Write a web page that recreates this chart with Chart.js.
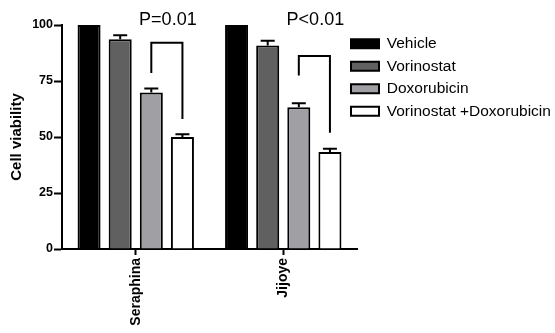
<!DOCTYPE html>
<html>
<head>
<meta charset="utf-8">
<script src="https://cdn.jsdelivr.net/npm/chart.js@4"></script>
<style>
  body { margin: 0; background: #fff; }
</style>
</head>
<body>
<canvas id="viabilityChart" width="555" height="333"></canvas>
<script>
// data
const cellLines = ['Seraphina', 'Jijoye'];
const treatments = ['Vehicle', 'Vorinostat', 'Doxorubicin', 'Vorinostat +Doxorubicin'];
const vehicle = [100, 100];
const vorinostat = [93.6, 90.9];
const doxorubicin = [69.9, 63.3];
const combination = [50.0, 43.3];
const vehicleErr = [0, 0];
const vorinostatErr = [1.8, 2.1];
const doxorubicinErr = [1.7, 1.8];
const combinationErr = [1.2, 1.5];
const yTicks = [0, 25, 50, 75, 100];

// significance brackets (doxorubicin vs combination)
const pLabels = ['P=0.01', 'P<0.01'];
const bracketTop = [92.1, 86.2];
const bracketLeftEnd = [78.6, 77.4];
const bracketRightEnd = [58.0, 51.9];
const pLabelLevel = [102.2, 102.2];

const fills = ['#000000', '#606060', '#a0a0a4', '#ffffff'];
const seriesValues = [vehicle, vorinostat, doxorubicin, combination];
const seriesErrors = [vehicleErr, vorinostatErr, doxorubicinErr, combinationErr];

document.addEventListener('DOMContentLoaded', () => {
    const errorBars = {
        id: 'errorBars',
        afterDatasetsDraw(chart) {
            const ctx = chart.ctx;
            const y = chart.scales.y;
            ctx.save();
            ctx.strokeStyle = '#000';
            ctx.lineWidth = 2;
            chart.data.datasets.forEach((ds, i) => {
                const meta = chart.getDatasetMeta(i);
                ds.data.forEach((v, j) => {
                    const e = seriesErrors[i][j];
                    if (!e) return;
                    const bar = meta.data[j];
                    const yTop = y.getPixelForValue(v + e);
                    ctx.beginPath();
                    ctx.moveTo(bar.x, y.getPixelForValue(v));
                    ctx.lineTo(bar.x, yTop);
                    ctx.moveTo(bar.x - 7, yTop);
                    ctx.lineTo(bar.x + 7, yTop);
                    ctx.stroke();
                });
            });
            ctx.restore();
        }
    };

    const brackets = {
        id: 'brackets',
        afterDraw(chart) {
            const ctx = chart.ctx;
            const y = chart.scales.y;
            const left = chart.getDatasetMeta(2);
            const right = chart.getDatasetMeta(3);
            ctx.save();
            ctx.strokeStyle = '#000';
            ctx.lineWidth = 2;
            cellLines.forEach((c, j) => {
                const x1 = left.data[j].x;
                const x2 = right.data[j].x;
                ctx.beginPath();
                ctx.moveTo(x1, y.getPixelForValue(bracketLeftEnd[j]));
                ctx.lineTo(x1, y.getPixelForValue(bracketTop[j]));
                ctx.lineTo(x2, y.getPixelForValue(bracketTop[j]));
                ctx.lineTo(x2, y.getPixelForValue(bracketRightEnd[j]));
                ctx.stroke();
                ctx.fillStyle = '#000';
                ctx.font = '18px "Liberation Sans", Arial, sans-serif';
                ctx.textAlign = 'center';
                ctx.textBaseline = 'middle';
                ctx.fillText(pLabels[j], (x1 + x2) / 2 + 1, y.getPixelForValue(pLabelLevel[j]));
            });
            ctx.restore();
        }
    };

    // legend sits just right of the plot, partly over the x axis end
    const legendPlace = {
        id: 'legendPlace',
        afterLayout(chart) {
            const lg = chart.legend;
            lg.left = chart.chartArea.right - 13;
            lg.right = chart.width;
            lg.width = lg.right - lg.left;
            const dy = chart.chartArea.top + 4 - lg.top;
            lg.top += dy;
            lg.bottom += dy;
        }
    };

    const ctx = document.getElementById('viabilityChart').getContext('2d');
    new Chart(ctx, {
        type: 'bar',
        data: {
            labels: cellLines,
            datasets: treatments.map((t, i) => ({
                label: t,
                data: seriesValues[i],
                backgroundColor: fills[i],
                borderColor: '#000',
                borderWidth: 2,
                categoryPercentage: 0.844,
                barPercentage: 0.74
            }))
        },
        options: {
            responsive: false,
            animation: false,
            devicePixelRatio: 1,
            layout: { padding: { top: 25, right: 0, bottom: 0, left: 0 } },
            scales: {
                x: {
                    grid: { display: true, drawOnChartArea: false, offset: false, tickLength: 6, tickWidth: 2, tickColor: '#000' },
                    border: { display: true, color: '#000', width: 2 },
                    ticks: {
                        color: '#000',
                        minRotation: 90,
                        maxRotation: 90,
                        padding: 3,
                        font: { family: 'Liberation Sans, Arial, sans-serif', size: 14, weight: 'bold' }
                    },
                    afterFit(scale) { scale.height = 84; }
                },
                y: {
                    min: 0,
                    max: 100,
                    grid: { display: true, drawOnChartArea: false, tickLength: 8, tickWidth: 2, tickColor: '#000' },
                    border: { display: true, color: '#000', width: 2 },
                    afterBuildTicks(scale) { scale.ticks = yTicks.map(v => ({ value: v })); },
                    ticks: {
                        color: '#000',
                        padding: 1,
                        font: { family: 'Liberation Sans, Arial, sans-serif', size: 12.5, weight: 'bold' }
                    },
                    title: {
                        display: true,
                        text: 'Cell viability',
                        color: '#000',
                        padding: { top: 8, bottom: 0 },
                        font: { family: 'Liberation Sans, Arial, sans-serif', size: 15, weight: 'bold' }
                    },
                    afterFit(scale) { scale.width = 62; }
                }
            },
            plugins: {
                legend: {
                    position: 'right',
                    align: 'start',
                    maxWidth: 198,
                    labels: {
                        color: '#000',
                        boxWidth: 28,
                        boxHeight: 9,
                        padding: 7,
                        font: { family: 'Liberation Sans, Arial, sans-serif', size: 15.5, lineHeight: 1 }
                    }
                },
                tooltip: { enabled: false }
            }
        },
        plugins: [errorBars, brackets, legendPlace]
    });
});
</script>
</body>
</html>
